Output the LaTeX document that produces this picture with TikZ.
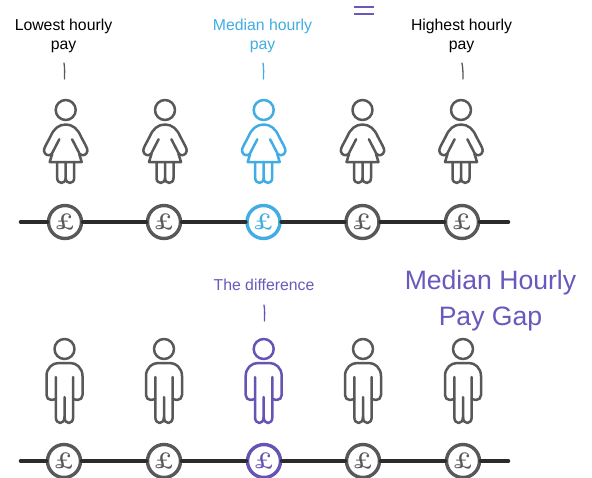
\documentclass[tikz,border=0pt]{standalone}
\usepackage{fontspec}
\newfontfamily\labelfont{Liberation Sans}
\definecolor{figgray}{HTML}{58585A}
\definecolor{figblue}{HTML}{41ADE2}
\definecolor{figpurple}{HTML}{6653B4}
\definecolor{txtpurple}{HTML}{6A58BC}
\definecolor{barblack}{HTML}{2B2B2B}
\tikzset{
  x=1pt,y=-1pt,
  fig/.style={line width=2.5pt,line cap=round,line join=round},
  coin/.style={circle,draw=#1,line width=3.4pt,minimum size=33pt,inner sep=0pt,fill=white,text=#1,font=\bfseries\fontsize{23}{23}\selectfont},
  bar/.style={draw=barblack,line width=4.6pt,line cap=round},
  tick/.style={draw=#1,line width=1.3pt,line cap=round},
  lab/.style={align=center,inner sep=0pt,font=\labelfont\fontsize{15.8}{19}\selectfont,text=#1},
  woman/.pic={
    \draw[fig] (0,0) circle[radius=10];
    \draw[fig] (-14,44) -- (-6.4,29.3);
    \draw[fig] (14,44) -- (6.4,29.3);
    \draw[fig] (-14,44) .. controls (-17,46.5) and (-21,45) .. (-21.7,41)
      .. controls (-22,38) and (-19,34) .. (-15,26)
      .. controls (-12,19) and (-7,14.5) .. (0,14.5)
      .. controls (7,14.5) and (12,19) .. (15,26)
      .. controls (19,34) and (22,38) .. (21.7,41)
      .. controls (21,45) and (17,46.5) .. (14,44);
    \draw[fig] (-13.5,44) -- (-16,52) -- (16,52) -- (13.5,44);
    \draw[fig] (-8.5,52) -- (-8.5,68) .. controls (-8.5,74.5) and (0,74.5) .. (0,68) -- (0,52);
    \draw[fig] (8.5,52) -- (8.5,68) .. controls (8.5,74.5) and (0,74.5) .. (0,68);
  },
  man/.pic={
    \draw[fig] (0,0) circle[radius=10];
    \draw[fig] (-8.7,28) -- (-8.7,68) .. controls (-8.7,76) and (0,76) .. (0,68) -- (0,48);
    \draw[fig] (8.7,28) -- (8.7,68) .. controls (8.7,76) and (0,76) .. (0,68);
    \draw[fig] (-8.7,50) -- (-13,51) .. controls (-16,51) and (-18,49) .. (-18,46)
      -- (-18,27) .. controls (-18,19) and (-12,14) .. (-6,14) -- (6,14)
      .. controls (12,14) and (18,19) .. (18,27) -- (18,46)
      .. controls (18,49) and (16,51) .. (13,51) -- (8.7,50);
  }
}
\begin{document}
\begin{tikzpicture}
\useasboundingbox[fill=white] (0,0) rectangle (592,477);
% text labels
\node[lab=black] (l1) at (63.5,36) {Lowest hourly\\pay};
\node[lab=figblue] (l2) at (262.5,36) {Median hourly\\pay};
\node[lab=black] (l3) at (461.5,36) {Highest hourly\\pay};
\node[lab=txtpurple] (l4) at (264,285) {The difference};
\node[align=center,inner sep=0pt,text=txtpurple,font=\labelfont\fontsize{26.6}{36}\selectfont] (title) at (490.5,301) {Median Hourly\\Pay Gap};
% equals sign
\coordinate (e1) at (354,7); \coordinate (e2) at (373.5,7);
\coordinate (e3) at (354,14); \coordinate (e4) at (373.5,14);
\draw[txtpurple,line width=1.8pt] (e1) -- (e2);
\draw[txtpurple,line width=1.8pt] (e3) -- (e4);
% ticks
\coordinate (t1a) at (64,63); \coordinate (t1b) at (64.5,79);
\coordinate (t2a) at (263,63); \coordinate (t2b) at (263.5,79);
\coordinate (t3a) at (462,63); \coordinate (t3b) at (463,79);
\coordinate (t4a) at (264,305); \coordinate (t4b) at (264.5,321);
\draw[tick=figgray] (t1a) .. controls +(1,6) and +(0,-6) .. (t1b);
\draw[tick=figblue] (t2a) .. controls +(1,6) and +(0,-6) .. (t2b);
\draw[tick=figgray] (t3a) .. controls +(1,6) and +(0,-6) .. (t3b);
\draw[tick=figpurple] (t4a) .. controls +(1,6) and +(0,-6) .. (t4b);
% women
\pic[figgray] at (65.7,110) {woman};
\pic[figgray] at (165,110) {woman};
\pic[figblue] at (263.7,110) {woman};
\pic[figgray] at (362.5,110) {woman};
\pic[figgray] at (461,110) {woman};
% men
\pic[figgray] at (64.5,349) {man};
\pic[figgray] at (164,349) {man};
\pic[figpurple] at (263.7,349) {man};
\pic[figgray] at (363,349) {man};
\pic[figgray] at (463,349) {man};
% top scale
\node[coin=figgray] (a1) at (65,222) {\pounds};
\node[coin=figgray] (a2) at (164,222) {\pounds};
\node[coin=figblue] (a3) at (263.5,222) {\pounds};
\node[coin=figgray] (a4) at (362.5,222) {\pounds};
\node[coin=figgray] (a5) at (462,222) {\pounds};
\coordinate (as) at (21,222); \coordinate (ae) at (508,222);
\draw[bar] (as) -- (a1); \draw[bar] (a1) -- (a2); \draw[bar] (a2) -- (a3);
\draw[bar] (a3) -- (a4); \draw[bar] (a4) -- (a5); \draw[bar] (a5) -- (ae);
% bottom scale
\node[coin=figgray] (b1) at (64,461) {\pounds};
\node[coin=figgray] (b2) at (164,461) {\pounds};
\node[coin=figpurple] (b3) at (264,461) {\pounds};
\node[coin=figgray] (b4) at (363,461) {\pounds};
\node[coin=figgray] (b5) at (463,461) {\pounds};
\coordinate (bs) at (21,461); \coordinate (be) at (508,461);
\draw[bar] (bs) -- (b1); \draw[bar] (b1) -- (b2); \draw[bar] (b2) -- (b3);
\draw[bar] (b3) -- (b4); \draw[bar] (b4) -- (b5); \draw[bar] (b5) -- (be);
\end{tikzpicture}
\end{document}
